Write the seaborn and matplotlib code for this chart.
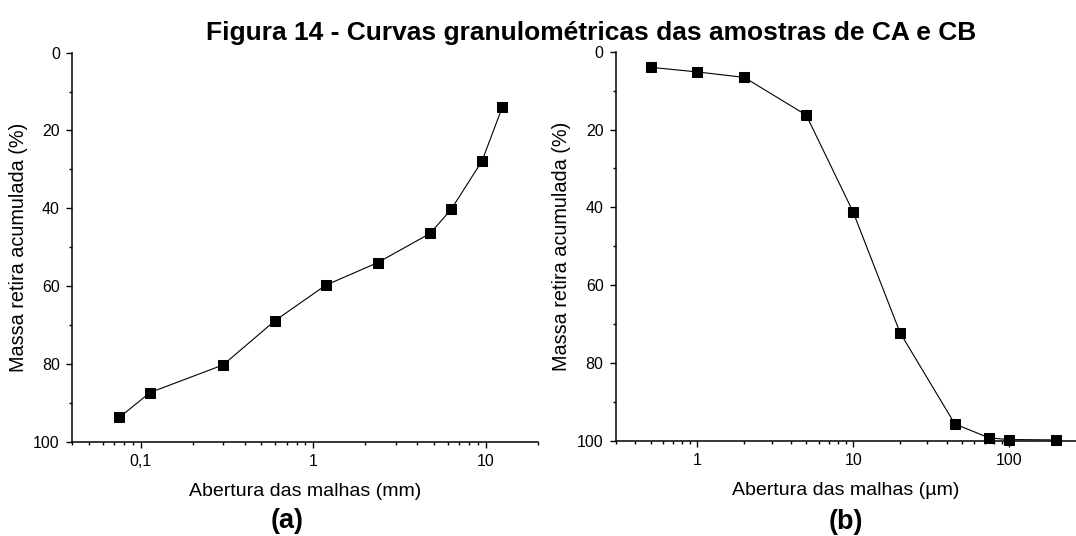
import numpy as np
import pandas as pd
import matplotlib
matplotlib.use("Agg")
import matplotlib.pyplot as plt
import seaborn as sns
from matplotlib.ticker import FixedLocator, NullFormatter, LogLocator

# Dados
abertura_a = [0.075, 0.113, 0.3, 0.6, 1.18, 2.36, 4.75, 6.3, 9.5, 12.5]   # mm
massa_a = [93.8, 87.4, 80.3, 68.9, 59.8, 54.0, 46.5, 40.3, 27.9, 13.9]

abertura_b = [0.5, 1, 2, 5, 10, 20, 45, 75, 100, 200]   # µm
massa_b = [4.0, 5.2, 6.6, 16.3, 41.2, 72.2, 95.7, 99.3, 99.7, 99.8]

ticks_a = [0.1, 1, 10]
labels_a = ["0,1", "1", "10"]
ticks_b = [1, 10, 100]
labels_b = ["1", "10", "100"]
yticks = [0, 20, 40, 60, 80, 100]

titulo = "Figura 14 - Curvas granulométricas das amostras de CA e CB"
ylabel = "Massa retira acumulada (%)"

sns.set_style("ticks")
plt.rcParams["font.family"] = ["Liberation Sans", "DejaVu Sans"]
plt.rcParams["text.color"] = "black"
plt.rcParams["axes.labelcolor"] = "black"

fig = plt.figure(figsize=(10.76, 5.36), dpi=100)
ax1 = fig.add_axes([0.0672, 0.1763, 0.4325, 0.7254])
ax2 = fig.add_axes([0.5725, 0.1778, 0.4275, 0.7257])

df_a = pd.DataFrame({"x": abertura_a, "y": massa_a})
df_b = pd.DataFrame({"x": abertura_b, "y": massa_b})

for ax, df, xlim, ticks, labels, xlabel in [
    (ax1, df_a, (0.04, 20), ticks_a, labels_a, "Abertura das malhas (mm)"),
    (ax2, df_b, (0.3, 270), ticks_b, labels_b, "Abertura das malhas (µm)"),
]:
    sns.lineplot(data=df, x="x", y="y", ax=ax, color="black", linewidth=0.8,
                 marker="s", markersize=6.5, markeredgecolor="black",
                 markerfacecolor="black", clip_on=False)
    ax.set_xscale("log")
    ax.set_xlim(*xlim)
    ax.set_ylim(100, 0)
    ax.xaxis.set_major_locator(FixedLocator(ticks))
    ax.set_xticklabels(labels)
    ax.xaxis.set_minor_locator(LogLocator(base=10, subs=np.arange(2, 10)))
    ax.xaxis.set_minor_formatter(NullFormatter())
    ax.set_yticks(yticks)
    ax.yaxis.set_minor_locator(FixedLocator([10, 30, 50, 70, 90]))
    ax.tick_params(which="major", length=4.5, width=1, pad=4.5, labelsize=11.5,
                   colors="black")
    ax.tick_params(which="minor", length=2.5, width=1, colors="black")
    for s in ["left", "bottom"]:
        ax.spines[s].set_linewidth(1.1)
        ax.spines[s].set_color("black")
    sns.despine(ax=ax)
    ax.set_xlabel(xlabel, fontsize=14, labelpad=10)
    ax.set_ylabel(ylabel, fontsize=14.3, labelpad=4)

fig.text(0.549, 0.925, titulo, ha="center", va="baseline", fontsize=19,
         fontweight="bold")
fig.text(0.2667, 0.028, "(a)", ha="center", va="center", fontsize=19.5,
         fontweight="bold")
fig.text(0.786, 0.026, "(b)", ha="center", va="center", fontsize=19.5,
         fontweight="bold")

fig.savefig("out.png", dpi=100)
